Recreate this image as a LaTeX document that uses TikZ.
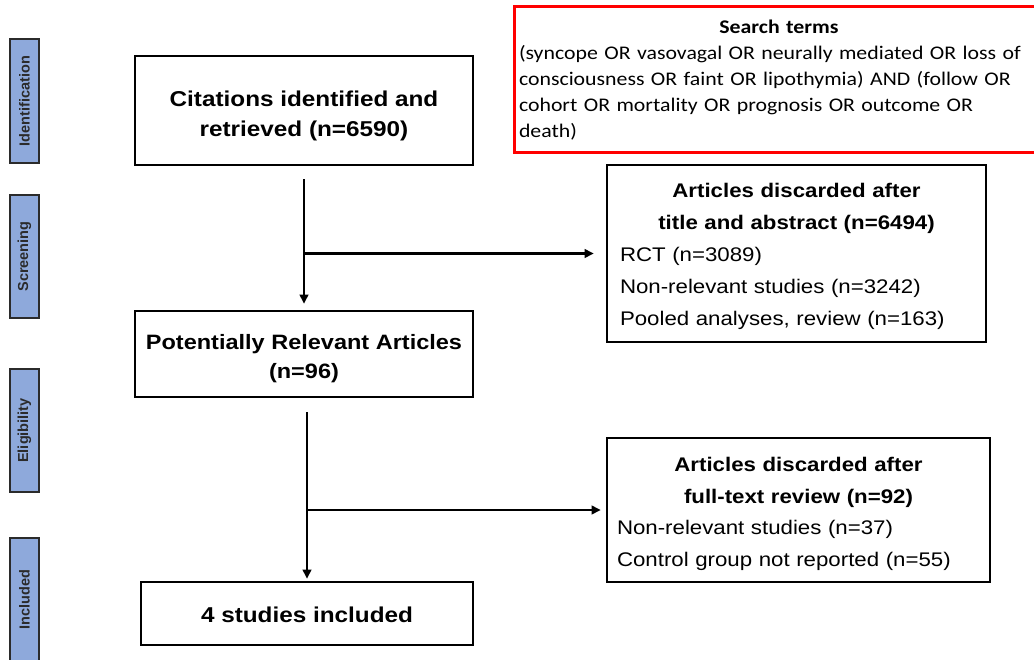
\documentclass[tikz,border=0pt]{standalone}
\usepackage{fontspec}
\setmainfont{Liberation Sans}[FakeStretch=1.13]
\newfontfamily\calib{Carlito}[FakeStretch=1.13]
\newfontfamily\barfont{Liberation Sans}
\usetikzlibrary{arrows.meta}
\definecolor{barblue}{HTML}{8EA9DB}
\definecolor{bardark}{HTML}{2B2B2B}
\newcommand\mystrut[1]{\rule{0pt}{#1}}
\tikzset{
  box/.style={draw, line width=2.6pt, inner sep=0pt, align=center},
  listbox/.style={draw, line width=2.6pt, align=left, inner ysep=0pt},
  searchbox/.style={draw=red, line width=3pt, align=left, inner ysep=0pt, inner xsep=5pt},
  phase/.style={draw=bardark, line width=1.5pt, fill=barblue, rotate=90, inner sep=0pt,
    minimum height=29pt, font=\barfont\bfseries\fontsize{14.5}{16}\selectfont, text=bardark},
  arr/.style={line width=2.2pt, -{Triangle[length=9pt,width=8.5pt]}},
}
\begin{document}
\begin{tikzpicture}[x=1pt,y=-1pt]
\useasboundingbox (0,0) rectangle (1034,659);
% phase bars
\node[phase, minimum width=124pt] (p1) at (24.5,101) {Identification};
\node[phase, minimum width=123pt] (p2) at (24.5,256.5) {Screening};
\node[phase, minimum width=123pt] (p3) at (24.5,430.5) {Eligibility};
\node[phase, minimum width=123pt] (p4) at (24.5,599.5) {Included};
% main boxes
\node[box, minimum width=338pt, minimum height=109pt,
  font=\bfseries\fontsize{21.5}{30}\selectfont] (cit) at (304,110.5)
  {\mystrut{26pt}Citations identified and\\retrieved (n=6590)};
\node[box, minimum width=338pt, minimum height=86pt,
  font=\bfseries\fontsize{20.8}{29}\selectfont] (pra) at (304,354)
  {\mystrut{25pt}Potentially Relevant Articles\\(n=96)};
\node[box, minimum width=332pt, minimum height=63pt,
  font=\bfseries\fontsize{21.5}{30}\selectfont] (stu) at (307,613.5)
  {\mystrut{19pt}4 studies included};
% search terms
\node[searchbox, text width=520pt, minimum height=146pt,
  font=\calib\fontsize{19.3}{26}\selectfont] (srch) at (779,79)
  {{\centering\bfseries \mystrut{16pt}Search terms\par}(syncope OR vasovagal OR neurally mediated OR loss of\\consciousness OR faint OR lipothymia) AND (follow OR\\cohort OR mortality OR prognosis OR outcome OR\\death)};
% discarded boxes
\node[listbox, inner xsep=13pt, text width=353pt, minimum height=177pt,
  font=\fontsize{19.7}{32}\selectfont] (d1) at (796.5,253.5)
  {{\centering\bfseries \mystrut{20.5pt}Articles discarded after\\title and abstract (n=6494)\par}RCT (n=3089)\\Non-relevant studies (n=3242)\\Pooled analyses, review (n=163)};
\node[listbox, inner xsep=10pt, text width=363pt, minimum height=144pt,
  font=\fontsize{19.7}{31.5}\selectfont] (d2) at (798.5,510)
  {{\centering\bfseries \mystrut{22.5pt}Articles discarded after\\full-text review (n=92)\par}Non-relevant studies (n=37)\\Control group not reported (n=55)};
% connectors
\draw[arr, shorten <=13pt, shorten >=6pt] (cit.south) -- (pra.north);
\draw[arr, shorten >=12pt] (cit.south |- d1.west) -- (d1.west);
\draw[arr, shorten <=14pt, shorten >=2pt] (stu.north |- pra.south) -- (stu.north);
\draw[arr, shorten >=5pt] (stu.north |- d2.west) -- (d2.west);
\end{tikzpicture}
\end{document}
